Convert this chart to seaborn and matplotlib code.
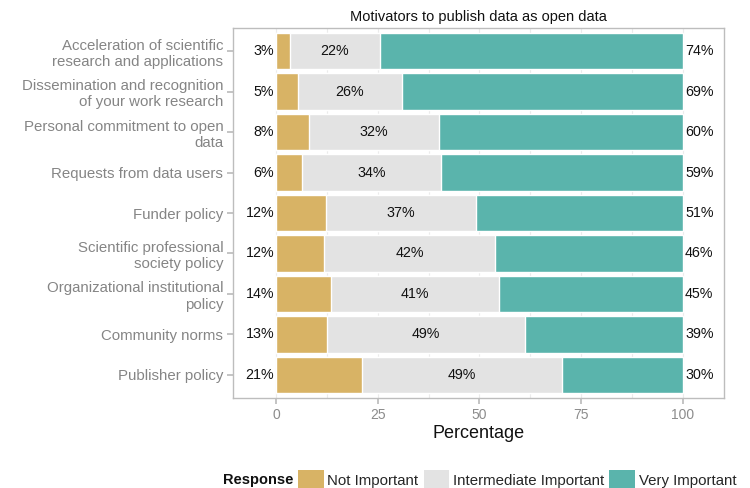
import matplotlib
matplotlib.use("Agg")
import matplotlib.pyplot as plt
import seaborn as sns
import pandas as pd
import numpy as np
from matplotlib.patches import Patch

items = [
    "Acceleration of scientific\nresearch and applications",
    "Dissemination and recognition\nof your work research",
    "Personal commitment to open\ndata",
    "Requests from data users",
    "Funder policy",
    "Scientific professional\nsociety policy",
    "Organizational institutional\npolicy",
    "Community norms",
    "Publisher policy",
]
not_important = [3.4, 5.4, 8.1, 6.4, 12.3, 11.8, 13.5, 12.5, 21.1]
intermediate = [22.2, 25.6, 31.9, 34.1, 36.8, 42.0, 41.3, 48.7, 49.2]
very_important = [74.4, 69.0, 60.0, 59.5, 50.9, 46.2, 45.2, 38.8, 29.7]
lab_low = ["3%", "5%", "8%", "6%", "12%", "12%", "14%", "13%", "21%"]
lab_mid = ["22%", "26%", "32%", "34%", "37%", "42%", "41%", "49%", "49%"]
lab_high = ["74%", "69%", "60%", "59%", "51%", "46%", "45%", "39%", "30%"]

c_low, c_mid, c_high = "#D8B365", "#E3E3E3", "#5AB4AC"

sns.set_theme(style="white")
plt.rcParams["font.family"] = ["Liberation Sans", "DejaVu Sans"]

df = pd.DataFrame({
    "Item": items,
    "low": not_important,
    "mid": intermediate,
    "high": very_important,
})
df["cum_mid"] = df["low"] + df["mid"]
df["total"] = df["cum_mid"] + df["high"]

fig = plt.figure(figsize=(7.5, 4.88), dpi=100)
ax = fig.add_axes([233/750, 1-398/488, (724-233)/750, (398-28)/488])

for col, color in [("total", c_high), ("cum_mid", c_mid), ("low", c_low)]:
    sns.barplot(data=df, y="Item", x=col, orient="h", color=color,
                width=0.9, saturation=1, ax=ax, zorder=2)

for i in range(len(items)):
    ax.text(-0.5, i, lab_low[i], ha="right", va="center", fontsize=10.3, color="#111111", zorder=3)
    ax.text(df["low"][i] + df["mid"][i] / 2, i, lab_mid[i], ha="center", va="center",
            fontsize=10.3, color="#111111", zorder=3)
    ax.text(100.6, i, lab_high[i], ha="left", va="center", fontsize=10.3, color="#111111", zorder=3)

ax.set_xlim(-10.6, 110.2)
ax.set_ylim(8.57, -0.57)
ax.set_xticks([0, 25, 50, 75, 100])
ax.set_xticks([12.5, 37.5, 62.5, 87.5], minor=True)
ax.grid(True, which="both", axis="x", color="#EBEBEB", linewidth=0.8, zorder=0)
ax.set_axisbelow(True)
for s in ax.spines.values():
    s.set_visible(True)
    s.set_color("#BDBDBD")
    s.set_linewidth(1.0)
ax.tick_params(axis="x", which="major", length=4, color="#BDBDBD", labelcolor="#8C8C8C",
               labelsize=10, pad=3, bottom=True)
ax.tick_params(axis="x", which="minor", length=0)
ax.tick_params(axis="y", length=4, color="#BDBDBD", labelcolor="#858585", labelsize=10.8,
               pad=3, left=True)
ax.set_ylabel("")
ax.set_xlabel("Percentage", fontsize=13, color="#111111", labelpad=2)
for t in ax.get_yticklabels():
    t.set_linespacing(1.22)
ax.set_title("Motivators to publish data as open data", fontsize=10.5, color="#111111", pad=5)

handles = [Patch(facecolor=c_low, edgecolor="none"),
           Patch(facecolor=c_mid, edgecolor="none"),
           Patch(facecolor=c_high, edgecolor="none")]
fig.text(293/750, 1-480/488, "Response", fontsize=10.5, fontweight="bold", ha="right", va="center",
         color="#111111")
fig.legend(handles, ["Not Important", "Intermediate Important", "Very Important"],
           loc="center left", bbox_to_anchor=(298/750, 1-480/488), ncol=3, frameon=False,
           fontsize=10.8, handlelength=1.7, handleheight=1.7, handletextpad=0.25,
           columnspacing=0.35, borderaxespad=0, borderpad=0)

fig.savefig("out.png", dpi=100)
